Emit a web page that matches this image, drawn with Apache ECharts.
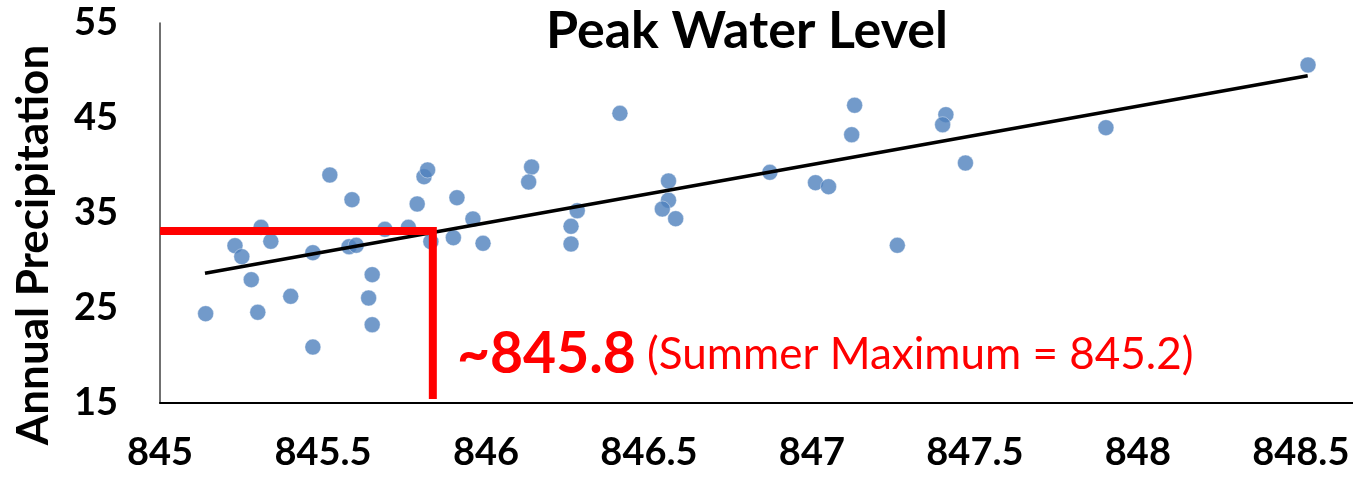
<!DOCTYPE html>
<html>
<head>
<meta charset="utf-8">
<script src="https://cdn.jsdelivr.net/npm/echarts@6/dist/echarts.min.js"></script>
<style>html,body{margin:0;padding:0;background:#fff}#c{width:1353px;height:480px}</style>
</head>
<body>
<div id="c"></div>
<script>
// Peak water level (x) vs annual precipitation (y)
const levels = [845.140,845.230,845.251,845.280,845.300,845.310,845.340,845.401,845.469,845.469,
  845.521,845.589,845.580,845.602,845.651,845.640,845.651,845.690,845.762,845.789,
  845.810,845.821,845.831,845.900,845.911,845.960,845.991,846.140,846.131,846.280,
  846.261,846.261,846.411,846.560,846.560,846.541,846.582,846.871,847.011,847.051,
  847.131,847.122,847.262,847.411,847.401,847.471,847.902,848.522];
const precip = [24.40,31.56,30.40,27.98,24.55,33.49,32.02,26.23,20.89,30.82,
  39.00,36.40,31.45,31.60,28.51,26.05,23.24,33.28,33.49,35.95,
  38.82,39.53,31.98,32.40,36.61,34.37,31.81,39.84,38.26,35.24,
  33.60,31.74,45.49,38.37,36.34,35.42,34.40,39.28,38.19,37.77,
  46.34,43.24,31.60,45.35,44.29,40.26,43.98,50.58];
const trendLevels = [845.138, 848.521];
const trendPrecip = [28.65, 49.45];
const refLevels = [845.0, 845.837, 845.837];
const refPrecip = [33.1, 33.1, 15.42];
const xTicks = [845, 845.5, 846, 846.5, 847, 847.5, 848, 848.5];
const yTicks = [15, 25, 35, 45, 55];

const FONT = 'Lato';
const chart = echarts.init(document.getElementById('c'), null, {renderer: 'canvas'});
chart.setOption({
  animation: false,
  backgroundColor: '#fff',
  title: {
    text: 'Peak Water Level', left: 742, top: 0, textAlign: 'center',
    textStyle: {fontFamily: FONT, fontWeight: 'bold', fontSize: 52, color: '#000'}
  },
  grid: {left: 160, top: 23, right: 0, bottom: 77, containLabel: false},
  xAxis: {
    type: 'value', min: xTicks[0], max: 848.66, interval: 0.5,
    splitLine: {show: false},
    axisTick: {show: false},
    axisLine: {show: true, lineStyle: {color: '#000', width: 2}},
    axisLabel: {
      showMaxLabel: false, margin: 31,
      fontFamily: FONT, fontWeight: 'bold', fontSize: 38, color: '#000',
      formatter: v => xTicks.includes(+v.toFixed(1)) ? String(+v.toFixed(1)) : ''
    }
  },
  yAxis: {
    type: 'value', min: yTicks[0], max: yTicks[yTicks.length - 1], interval: 10,
    splitLine: {show: false},
    axisTick: {show: false},
    axisLine: {show: true, lineStyle: {color: '#404040', width: 1.5}},
    axisLabel: {margin: 42, fontFamily: FONT, fontWeight: 'bold', fontSize: 38, color: '#000'}
  },
  series: [
    {
      type: 'scatter', symbol: 'circle', symbolSize: 16, z: 2,
      itemStyle: {color: '#4F81BD', borderColor: '#fff', borderWidth: 0.5},
      data: levels.map((x, i) => [x, precip[i]])
    },
    {
      type: 'line', symbol: 'none', z: 3,
      lineStyle: {color: '#000', width: 3.5},
      data: trendLevels.map((x, i) => [x, trendPrecip[i]])
    },
    {
      type: 'line', symbol: 'none', z: 4,
      lineStyle: {color: '#FF0000', width: 8, join: 'miter', cap: 'butt'},
      data: refLevels.map((x, i) => [x, refPrecip[i]])
    }
  ],
  graphic: [
    {
      type: 'text', x: 34, y: 245, rotation: Math.PI / 2, z: 10,
      style: {
        text: 'Annual Precipitation', align: 'center', verticalAlign: 'middle',
        fontFamily: FONT, fontWeight: 'bold', fontSize: 44, fill: '#000'
      }
    },
    {
      type: 'text', left: 457, top: 326, z: 10,
      style: {
        text: '{b|~845.8}{n| (Summer Maximum = 845.2)}',
        rich: {
          b: {fontFamily: FONT, fontWeight: 'bold', fontSize: 57, fill: '#FF0000'},
          n: {fontFamily: FONT, fontSize: 44, fill: '#FF0000'}
        }
      }
    }
  ]
});
</script>
</body>
</html>
